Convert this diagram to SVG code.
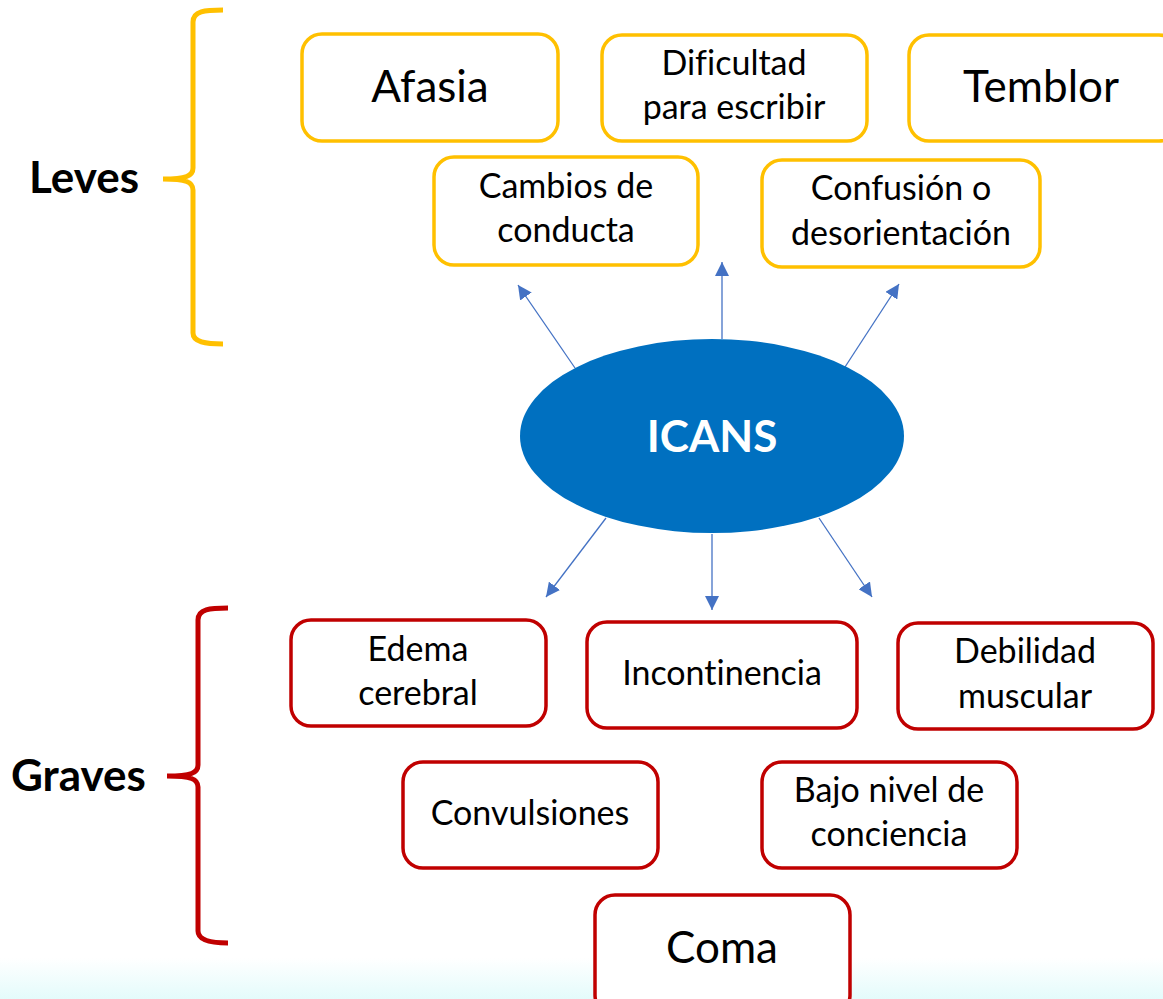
<svg xmlns="http://www.w3.org/2000/svg" width="1163" height="999" viewBox="0 0 1163 999">
<defs>
<linearGradient id="band" x1="0" y1="0" x2="0" y2="1">
<stop offset="0" stop-color="#ffffff"/>
<stop offset="1" stop-color="#e4fbfb"/>
</linearGradient>
<marker id="ah" viewBox="0 0 14 14" markerWidth="14" markerHeight="14" refX="14" refY="7" orient="auto" markerUnits="userSpaceOnUse">
<path d="M0,0 L14,7 L0,14 z" fill="#4472C4"/>
</marker>
<style>
.y{fill:#fff;stroke:#FFC000;stroke-width:3.5}
.r{fill:#fff;stroke:#C00000;stroke-width:3.5}
text{font-variant-ligatures:none}
.t{font-family:Lato,"Open Sans",sans-serif;fill:#000;text-anchor:middle}
.big{font-size:44px}
.sm{font-size:34px}
.lab{font-family:Lato,"Open Sans",sans-serif;font-weight:bold;font-size:44px;fill:#000}
.brace{fill:none;stroke-width:5;stroke-linecap:butt}
.c{stroke:#4472C4;stroke-width:1.3;fill:none;marker-end:url(#ah)}
</style>
</defs>
<rect x="0" y="0" width="1163" height="999" fill="#fff"/>
<rect x="0" y="958" width="1163" height="41" fill="url(#band)"/>

<g id="leves-label">
<path class="brace" stroke="#FFC000" d="M223 10 C205 10 193 11 193 22 L193 168 C193 176 186 179 163 179 C186 179 193 182 193 190 L193 333 C193 342 205 344 223 344"/>
<text class="lab" x="29" y="193">Leves</text>
</g>
<g id="graves-label">
<path class="brace" stroke="#C00000" d="M228 608 C210 608 198 609 198 620 L198 765 C198 773 191 776 167 776 C191 776 198 779 198 787 L198 931 C198 940 210 943 228 943"/>
<text class="lab" x="11" y="791">Graves</text>
</g>

<g id="connectors">
<line class="c" x1="575" y1="368" x2="518" y2="285"/>
<line class="c" x1="722" y1="339" x2="722" y2="262"/>
<line class="c" x1="845" y1="367" x2="899" y2="284"/>
<line class="c" x1="606" y1="518" x2="546" y2="597"/>
<line class="c" x1="712" y1="534" x2="712" y2="610"/>
<line class="c" x1="819" y1="518" x2="872" y2="597"/>
</g>

<g id="icans">
<ellipse cx="712" cy="436" rx="192" ry="97" fill="#0070C0"/>
<text x="712" y="452" text-anchor="middle" font-family="Lato,'Open Sans',sans-serif" font-weight="bold" font-size="44" fill="#fff">ICANS</text>
</g>

<g id="afasia">
<rect class="y" x="302" y="34" width="256" height="107" rx="20"/>
<text class="t big" x="430" y="102">Afasia</text>
</g>
<g id="dificultad">
<rect class="y" x="602" y="35" width="265" height="106" rx="20"/>
<text class="t sm" x="734" y="75">Dificultad</text>
<text class="t sm" x="734" y="119">para escribir</text>
</g>
<g id="temblor">
<rect class="y" x="909" y="35" width="270" height="106" rx="20"/>
<text class="t big" x="1041" y="102">Temblor</text>
</g>
<g id="cambios">
<rect class="y" x="434" y="157" width="264" height="108" rx="20"/>
<text class="t sm" x="566" y="198">Cambios de</text>
<text class="t sm" x="566" y="242">conducta</text>
</g>
<g id="confusion">
<rect class="y" x="762" y="160" width="278" height="107" rx="20"/>
<text class="t sm" x="901" y="200">Confusión o</text>
<text class="t sm" x="901" y="245">desorientación</text>
</g>

<g id="edema">
<rect class="r" x="291" y="620" width="255" height="106" rx="20"/>
<text class="t sm" x="418" y="661">Edema</text>
<text class="t sm" x="418" y="705">cerebral</text>
</g>
<g id="incontinencia">
<rect class="r" x="587" y="622" width="270" height="106" rx="20"/>
<text class="t sm" x="722" y="685">Incontinencia</text>
</g>
<g id="debilidad">
<rect class="r" x="898" y="623" width="255" height="106" rx="20"/>
<text class="t sm" x="1025" y="663">Debilidad</text>
<text class="t sm" x="1025" y="708">muscular</text>
</g>
<g id="convulsiones">
<rect class="r" x="403" y="762" width="255" height="106" rx="20"/>
<text class="t sm" x="530" y="825">Convulsiones</text>
</g>
<g id="bajo-nivel">
<rect class="r" x="762" y="762" width="255" height="106" rx="20"/>
<text class="t sm" x="889" y="802">Bajo nivel de</text>
<text class="t sm" x="889" y="846">conciencia</text>
</g>
<g id="coma">
<rect class="r" x="595" y="895" width="255" height="120" rx="20"/>
<text class="t big" x="722" y="963">Coma</text>
</g>
</svg>
